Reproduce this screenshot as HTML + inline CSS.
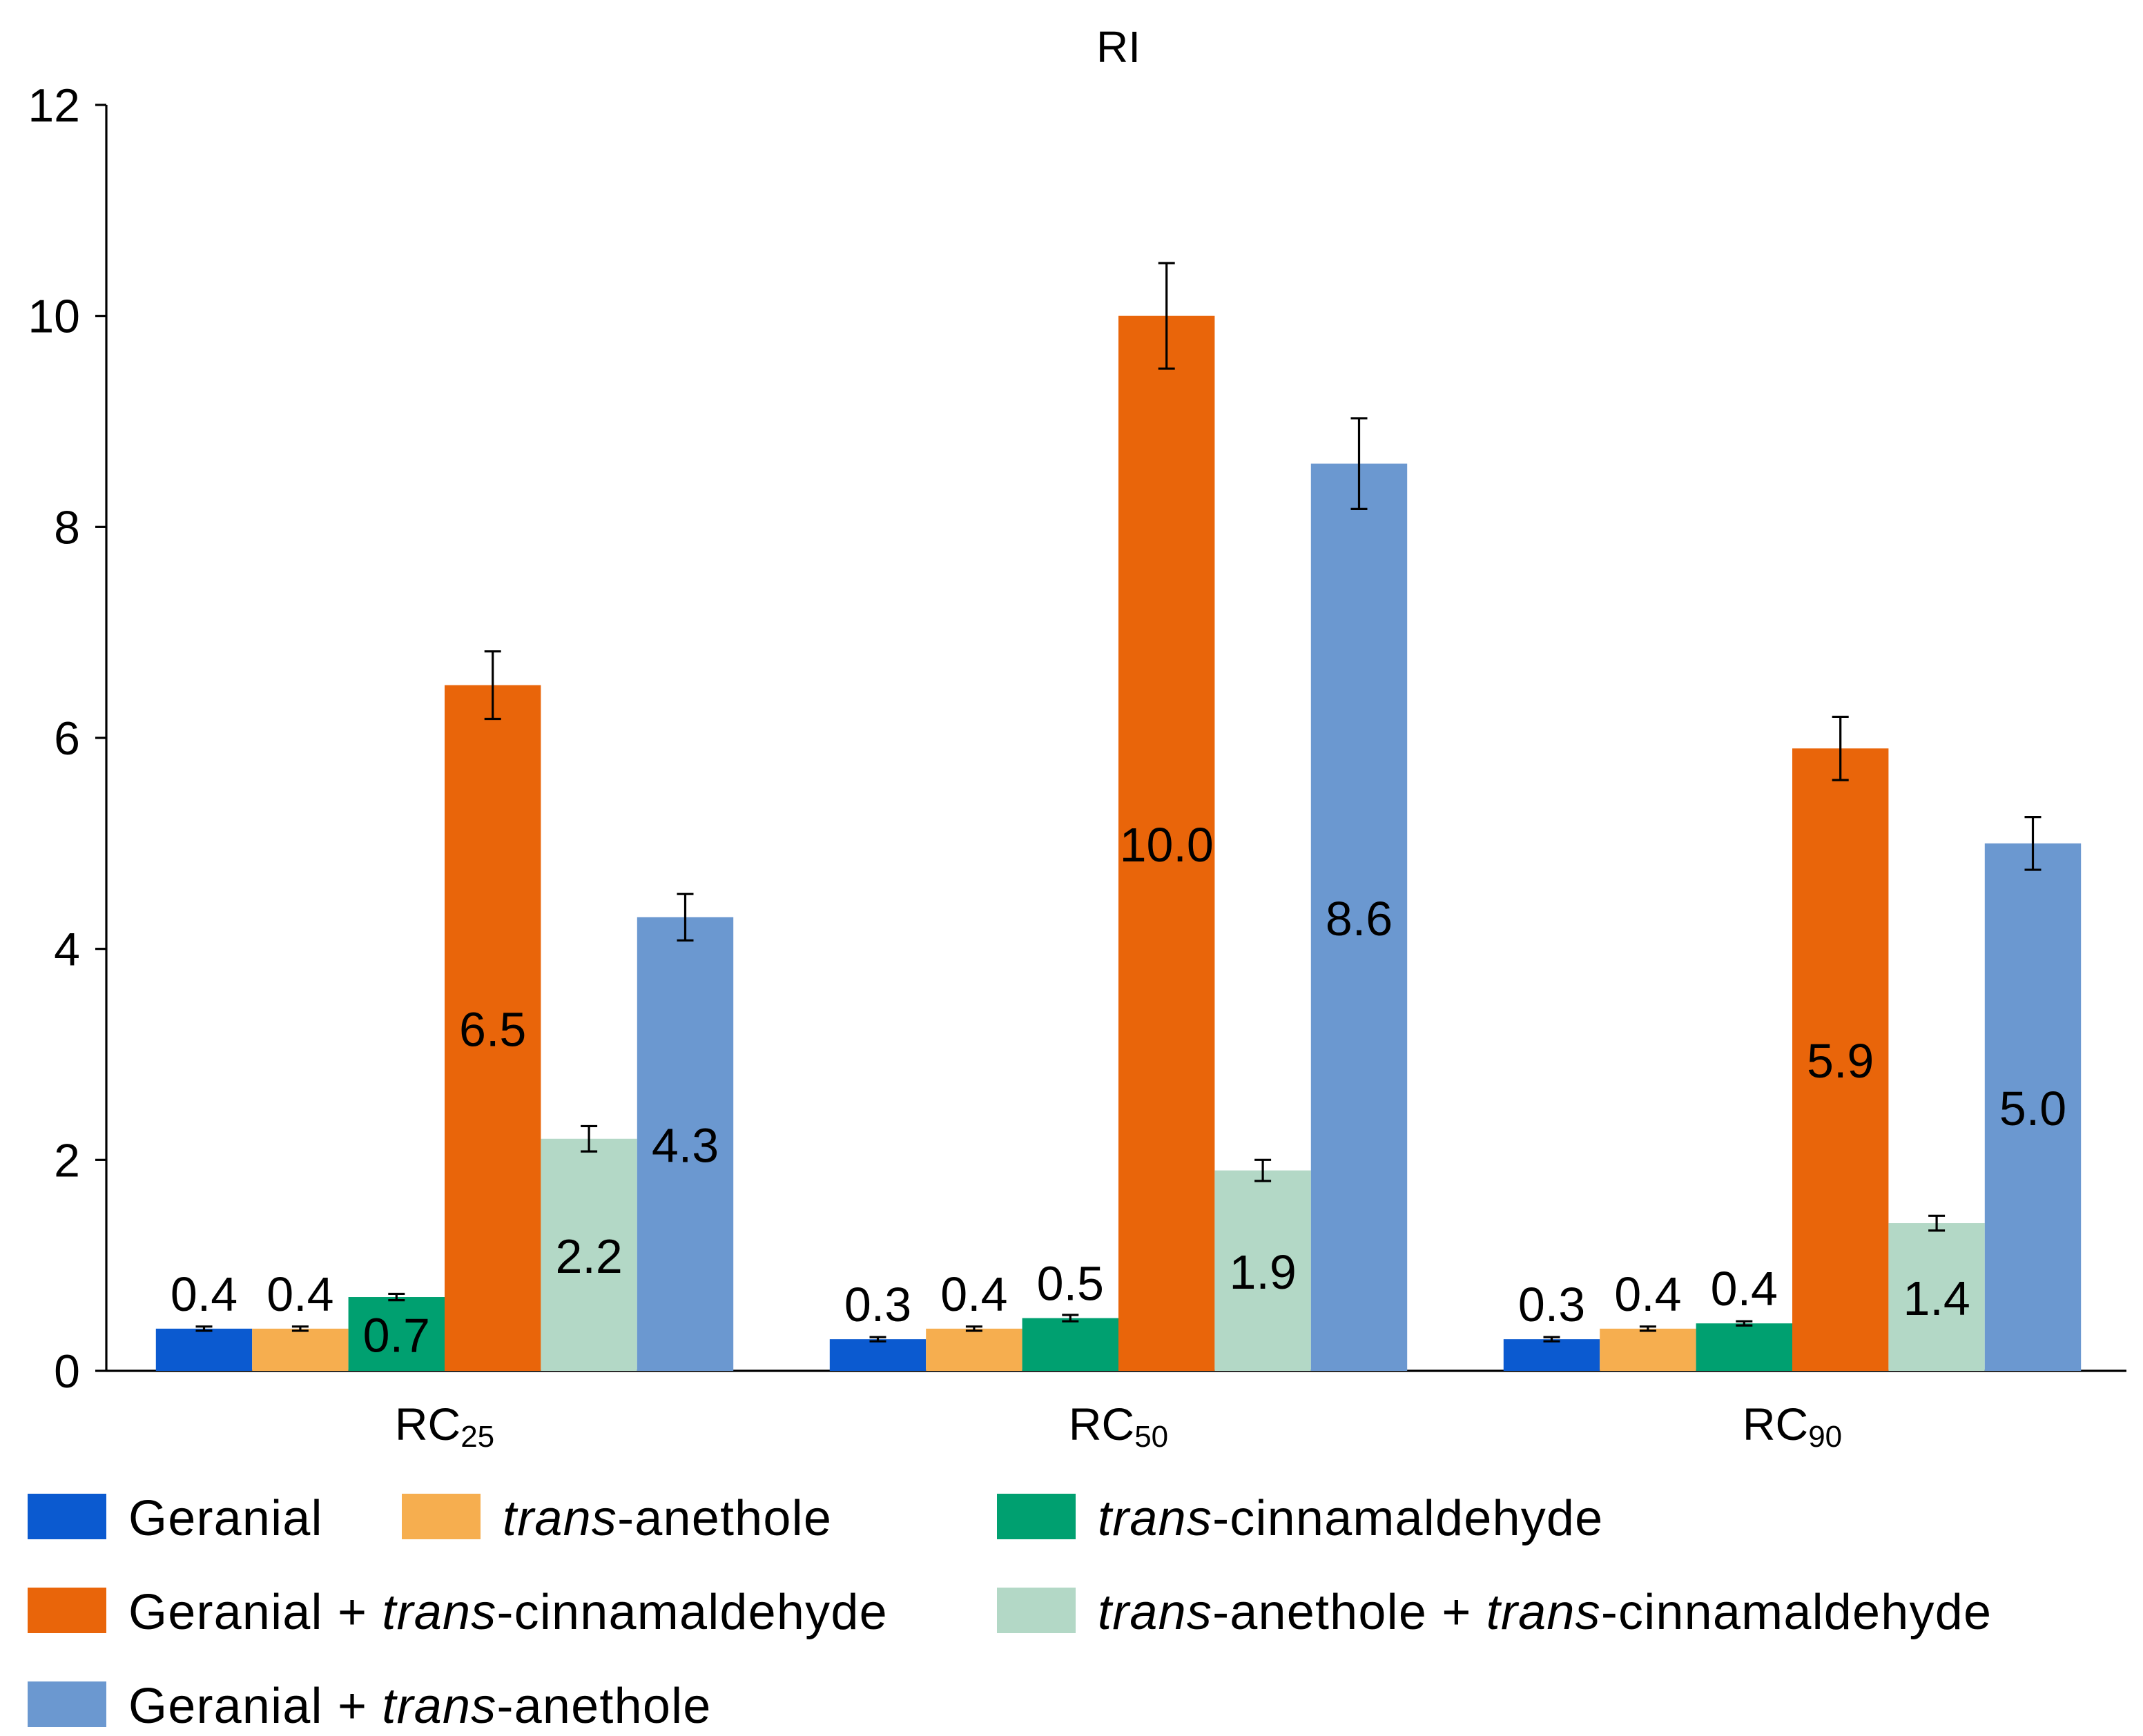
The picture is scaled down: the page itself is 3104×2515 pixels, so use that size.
<!DOCTYPE html>
<html><head><meta charset="utf-8"><style>
html,body{margin:0;padding:0;background:#fff;}
svg{display:block;font-family:"Liberation Sans",sans-serif;}
</style></head><body>
<svg id="chart" width="3104" height="2515" viewBox="0 0 1552 1257.5" xmlns="http://www.w3.org/2000/svg">
<text x="810" y="45" font-size="32" text-anchor="middle">RI</text>
<g id="axes"></g>
<g id="bars"></g>
<g id="legend"></g>
</svg>
<script>
const categories = ["25", "50", "90"];
const seriesNames = ["Geranial", "trans-anethole", "trans-cinnamaldehyde", "Geranial + trans-cinnamaldehyde", "trans-anethole + trans-cinnamaldehyde", "Geranial + trans-anethole"];
const geranial = [0.4, 0.3, 0.3];
const anethole = [0.4, 0.4, 0.4];
const cinnamaldehyde = [0.7, 0.5, 0.45];
const gerCinn = [6.5, 10.0, 5.9];
const aneCinn = [2.2, 1.9, 1.4];
const gerAne = [4.3, 8.6, 5.0];
const labels = [["0.4","0.3","0.3"],["0.4","0.4","0.4"],["0.7","0.5","0.4"],["6.5","10.0","5.9"],["2.2","1.9","1.4"],["4.3","8.6","5.0"]];
const errors = [[0.02,0.02,0.02],[0.02,0.02,0.02],[0.03,0.03,0.02],[0.32,0.5,0.3],[0.12,0.1,0.07],[0.22,0.43,0.25]];
const yTicks = [0, 2, 4, 6, 8, 10, 12];
const colors = ["#0b5ad0","#f6ae4f","#00a070","#e9650a","#b3d8c6","#6b98d0"];
const series = [geranial, anethole, cinnamaldehyde, gerCinn, aneCinn, gerAne];

const NS = "http://www.w3.org/2000/svg";
const x0 = 77, y0 = 993, yTop = 76, xEnd = 1540;
const y = v => y0 - (v / 12) * (y0 - yTop);
const groupCenter = i => 322 + i * 488;
const barW = 69.7;
function mk(tag, attrs, parent, text) {
  const e = document.createElementNS(NS, tag);
  for (const k in attrs) e.setAttribute(k, attrs[k]);
  if (text !== undefined) e.textContent = text;
  parent.appendChild(e);
  return e;
}
const axes = document.getElementById("axes");
let e = mk("line", {x1:x0, y1:yTop, x2:x0, y2:y0, stroke:"#000", "stroke-width":1.6}, axes);


e = mk("line", {x1:x0, y1:y0, x2:xEnd, y2:y0, stroke:"#000", "stroke-width":1.6}, axes);


yTicks.forEach(t => {
  const l = mk("line", {x1:x0-8, y1:y(t), x2:x0, y2:y(t), stroke:"#000", "stroke-width":1.6}, axes);
  
  
  const tx = mk("text", {x:58, y:y(t)+12, "font-size":34, "text-anchor":"end"}, axes, String(t));
  
  
});
categories.forEach((c, i) => {
  const tx = mk("text", {x:groupCenter(i), y:1043, "font-size":33, "text-anchor":"middle"}, axes);
  
  
  mk("tspan", {}, tx, "RC");
  mk("tspan", {"font-size":22, dy:5}, tx, c);
});
const bars = document.getElementById("bars");
series.forEach((s, si) => {
  s.forEach((v, ci) => {
    const bx = groupCenter(ci) - 3 * barW + si * barW;
    const r = mk("rect", {x:bx, y:y(v), width:barW, height:y0 - y(v), fill:colors[si]}, bars);
    
    
    const cx = bx + barW / 2, er = errors[si][ci];
    const eg = mk("g", {stroke:"#000", "stroke-width":1.6}, bars);
    
    
    mk("line", {x1:cx, y1:y(v+er), x2:cx, y2:y(v-er)}, eg);
    mk("line", {x1:cx-6, y1:y(v+er), x2:cx+6, y2:y(v+er)}, eg);
    mk("line", {x1:cx-6, y1:y(v-er), x2:cx+6, y2:y(v-er)}, eg);
    const ly = v >= 0.6 ? (y(v) + y0) / 2 + 13 : y(v) - 13;
    const tx = mk("text", {x:cx, y:ly, "font-size":35, "text-anchor":"middle"}, bars, labels[si][ci]);
    
    
  });
});
const legend = document.getElementById("legend");
const legPos = [[20,1082],[291,1082],[722,1082],[20,1150],[722,1150],[20,1218]];
seriesNames.forEach((n, i) => {
  const g = mk("g", {}, legend);
  
  
  const [lx, ly] = legPos[i];
  mk("rect", {x:lx, y:ly, width:57, height:33, fill:colors[i]}, g);
  const tx = mk("text", {x:lx+73, y:ly+30, "font-size":36, "letter-spacing":0.6}, g);
  n.split(/(trans)/).forEach(p => {
    if (!p) return;
    mk("tspan", p === "trans" ? {"font-style":"italic"} : {}, tx, p);
  });
});
</script>
</body></html>
